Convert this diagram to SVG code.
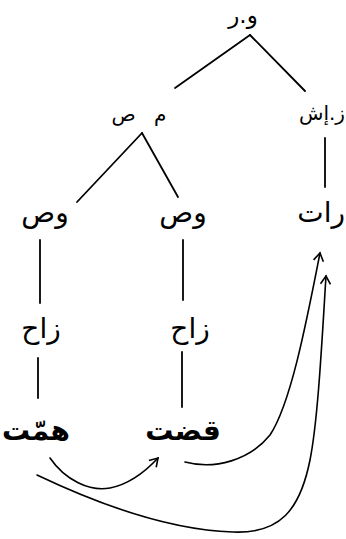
<svg xmlns="http://www.w3.org/2000/svg" width="346" height="539" viewBox="0 0 346 539">
<defs>
<style>
.t{font-family:"DejaVu Sans",sans-serif;fill:#000;text-anchor:middle}
.big{font-size:28px}
.bold{font-weight:bold}
.sm{font-size:20px}
.ln{stroke:#000;stroke-width:1.8;fill:none;stroke-linecap:round}
.ar{stroke:#000;stroke-width:1.6;fill:none;stroke-linecap:round}
</style>
<marker id="ah" viewBox="0 0 12 12" refX="10" refY="6" markerWidth="12" markerHeight="12" markerUnits="userSpaceOnUse" orient="auto">
<path d="M2,1 L10,6 L2,11" fill="none" stroke="#000" stroke-width="1.6"/>
</marker>
</defs>
<rect width="346" height="539" fill="#fff"/>
<g id="connectors">
<path class="ln" d="M250,35 L175,88"/>
<path class="ln" d="M250,35 L305,91"/>
<path class="ln" d="M142,133 L77,202"/>
<path class="ln" d="M142,133 L178,197"/>
<path class="ln" d="M325,138 L325,187"/>
<path class="ln" d="M40,240 L40,303"/>
<path class="ln" d="M183,240 L183,300"/>
<path class="ln" d="M38,358 L38,398"/>
<path class="ln" d="M182,352 L182,407"/>
<path class="ar" d="M50,458 C65,480 90,492 110,488 C130,484 145,472 158,458" marker-end="url(#ah)"/>
<path class="ar" d="M185,462 C215,470 250,460 270,435 C290,405 305,330 320,253" marker-end="url(#ah)"/>
<path class="ar" d="M37,475 C100,505 170,530 233,532 C280,534 300,510 310,460 C318,420 322,340 326,276" marker-end="url(#ah)"/>
</g>
<g id="n-root"><text class="t" x="243" y="23" style="font-size:23px">و.ر</text></g>
<g id="n-ms"><text class="t sm" x="139" y="121" style="word-spacing:12px">م ص</text></g>
<g id="n-zish"><text class="t sm" x="345" y="120" style="text-anchor:end">ز.إش</text></g>
<g id="n-ws1"><text class="t big" x="45" y="222">وص</text></g>
<g id="n-ws2"><text class="t big" x="183" y="222">وص</text></g>
<g id="n-rat"><text class="t big" x="345" y="222" style="text-anchor:end">رات</text></g>
<g id="n-zah1"><text class="t big" x="41" y="338">زاح</text></g>
<g id="n-zah2"><text class="t big" x="190" y="338">زاح</text></g>
<g id="n-hmt"><text class="t big bold" x="36" y="440">همّت</text></g>
<g id="n-qdt"><text class="t big bold" x="183" y="440">قضت</text></g>
</svg>
